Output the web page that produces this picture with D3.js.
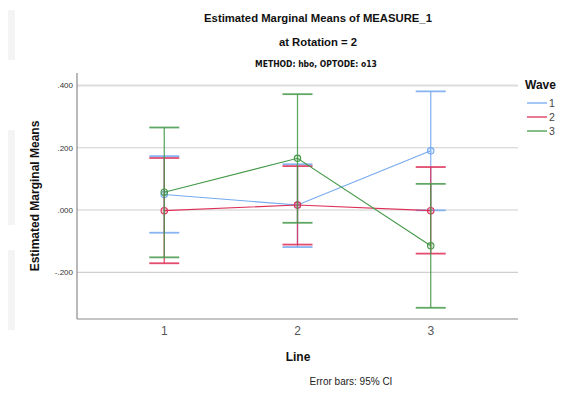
<!DOCTYPE html>
<html><head><meta charset="utf-8">
<script src="https://cdn.jsdelivr.net/npm/d3@7"></script>
<style>body{margin:0;background:#fff;}svg{display:block;font-family:"Liberation Sans",Arial,sans-serif;}</style>
</head><body>
<svg id="c" width="567" height="393"></svg>
<script>
const lines = ["1", "2", "3"];
const waves = ["1", "2", "3"];
const waveColors = ["#74a9f0", "#dd2f57", "#45994a"];
// means per wave, across lines 1..3
const means = [
  [0.050, 0.016, 0.190],
  [-0.002, 0.016, -0.002],
  [0.057, 0.166, -0.115]
];
const upper = [
  [0.173, 0.147, 0.381],
  [0.167, 0.141, 0.138],
  [0.265, 0.372, 0.084]
];
const lower = [
  [-0.073, -0.119, -0.001],
  [-0.171, -0.111, -0.140],
  [-0.152, -0.041, -0.314]
];
const yTicks = [-0.2, 0, 0.2, 0.4];
const yTickLabels = ["-.200", ".000", ".200", ".400"];

const svg = d3.select("#c");
const L = 77, R = 518, T = 73, B = 319;

// faint page decorations on left
[[8, 10, 50], [8, 130, 95], [8, 250, 80]].forEach(([x, y, h]) => {
  svg.append("rect").attr("x", x).attr("y", y).attr("width", 7).attr("height", h)
    .attr("fill", "#f4f4f4");
});

const x = d3.scalePoint().domain(lines).range([L, R]).padding(0.655);
const y = d3.scaleLinear().domain([-0.350, 0.440]).range([B, T]);

// gridlines
svg.append("g").selectAll("line").data(yTicks).join("line")
  .attr("x1", L).attr("x2", R)
  .attr("y1", d => y(d)).attr("y2", d => y(d))
  .attr("stroke", d => d === 0.4 ? "#dcdcdc" : "#cfcfcf")
  .attr("stroke-width", d => d === 0.4 ? 2 : 1.2);

// axes
svg.append("line").attr("x1", L).attr("x2", L).attr("y1", T).attr("y2", B)
  .attr("stroke", "#8a8a8a").attr("stroke-width", 1.2);
svg.append("line").attr("x1", L).attr("x2", R).attr("y1", B).attr("y2", B)
  .attr("stroke", "#8a8a8a").attr("stroke-width", 1.2);

// y tick labels
svg.append("g").selectAll("text").data(yTicks).join("text")
  .attr("x", L - 4).attr("y", d => y(d) + 3)
  .attr("text-anchor", "end").attr("font-size", 8).attr("fill", "#333")
  .text((d, i) => yTickLabels[i]);

// x tick labels
svg.append("g").selectAll("text").data(lines).join("text")
  .attr("x", d => x(d)).attr("y", 335)
  .attr("text-anchor", "middle").attr("font-size", 12).attr("fill", "#555")
  .text(d => d);

const capHalf = 15;
waves.forEach((w, wi) => {
  const col = waveColors[wi];
  const g = svg.append("g");
  // error bars
  lines.forEach((ln, li) => {
    const cx = x(ln);
    g.append("line").attr("x1", cx).attr("x2", cx)
      .attr("y1", y(upper[wi][li])).attr("y2", y(lower[wi][li]))
      .attr("stroke", col).attr("stroke-width", 1.3).attr("opacity", 0.85);
    [upper[wi][li], lower[wi][li]].forEach(v => {
      g.append("line").attr("x1", cx - capHalf).attr("x2", cx + capHalf)
        .attr("y1", y(v)).attr("y2", y(v))
        .attr("stroke", col).attr("stroke-width", 1.8).attr("opacity", 0.85);
    });
  });
  // mean line
  const lineGen = d3.line().x((d, i) => x(lines[i])).y(d => y(d));
  g.append("path").datum(means[wi]).attr("d", lineGen)
    .attr("fill", "none").attr("stroke", col).attr("stroke-width", 1.1);
  g.selectAll("circle").data(means[wi]).join("circle")
    .attr("cx", (d, i) => x(lines[i])).attr("cy", d => y(d)).attr("r", 3.2)
    .attr("fill", col).attr("fill-opacity", 0.2)
    .attr("stroke", col).attr("stroke-width", 1.1);
});

// titles
svg.append("text").attr("x", 318).attr("y", 22).attr("text-anchor", "middle")
  .attr("font-size", 11.3).attr("font-weight", "bold").attr("fill", "#111")
  .text("Estimated Marginal Means of MEASURE_1");
svg.append("text").attr("x", 318).attr("y", 46).attr("text-anchor", "middle")
  .attr("font-size", 11.3).attr("font-weight", "bold").attr("fill", "#111")
  .text("at Rotation = 2");
svg.append("text").attr("x", 316).attr("y", 67).attr("text-anchor", "middle")
  .attr("font-size", 8.5).attr("font-weight", "bold").attr("fill", "#111")
  .attr("font-family", "'Liberation Sans Narrow','DejaVu Sans Condensed',sans-serif")
  .text("METHOD: hbo, OPTODE: o13");

// axis titles
svg.append("text").attr("transform", "translate(39,196) rotate(-90)")
  .attr("text-anchor", "middle").attr("font-size", 12).attr("font-weight", "bold").attr("fill", "#111")
  .text("Estimated Marginal Means");
svg.append("text").attr("x", 298).attr("y", 361).attr("text-anchor", "middle")
  .attr("font-size", 12).attr("font-weight", "bold").attr("fill", "#111")
  .text("Line");
svg.append("text").attr("x", 351).attr("y", 385).attr("text-anchor", "middle")
  .attr("font-size", 10).attr("fill", "#222")
  .text("Error bars: 95% CI");

// legend
svg.append("text").attr("x", 525).attr("y", 89).attr("font-size", 12)
  .attr("font-weight", "bold").attr("fill", "#111").text("Wave");
const lg = svg.append("g").selectAll("g").data(waves).join("g")
  .attr("transform", (d, i) => `translate(527,${103 + i * 14})`);
lg.append("line").attr("x1", 0).attr("x2", 20).attr("stroke", (d, i) => waveColors[i]).attr("stroke-width", 1.3);
lg.append("text").attr("x", 22).attr("y", 4).attr("font-size", 10.5).attr("fill", "#444").text(d => d);
</script>
</body></html>
